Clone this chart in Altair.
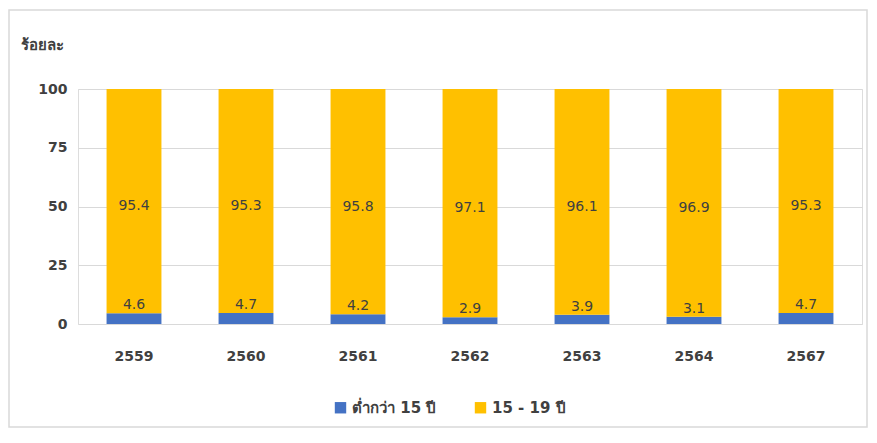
import altair as alt
import pandas as pd

years = ["2559", "2560", "2561", "2562", "2563", "2564", "2567"]
under15 = [4.6, 4.7, 4.2, 2.9, 3.9, 3.1, 4.7]
age15_19 = [95.4, 95.3, 95.8, 97.1, 96.1, 96.9, 95.3]
series = ["ต่ำกว่า 15 ปี", "15 - 19 ปี"]
colors = ["#4472C4", "#FFC000"]

rows = []
for y, a, b in zip(years, under15, age15_19):
    rows.append({"year": y, "group": series[0], "value": a, "ord": 0,
                 "label": f"{a:.1f}", "lab_y": a, "kind": "low"})
    rows.append({"year": y, "group": series[1], "value": b, "ord": 1,
                 "label": f"{b:.1f}", "lab_y": a + b / 2, "kind": "high"})
df = pd.DataFrame(rows)

FONT = "Tahoma, DejaVu Sans, Noto Sans, sans-serif"
W, H = 784, 235

base = alt.Chart(df)

bars = base.mark_bar().encode(
    x=alt.X("year:N", sort=years, title=None,
            scale=alt.Scale(paddingInner=0.51, paddingOuter=0.255),
            axis=alt.Axis(labelAngle=0, ticks=False, domain=False,
                          labelPadding=25, labelFontSize=14, labelFontWeight="bold",
                          labelColor="#404040", labelFont=FONT)),
    y=alt.Y("value:Q", stack="zero",
            scale=alt.Scale(domain=[0, 100]),
            axis=alt.Axis(values=[0, 25, 50, 75, 100], title="ร้อยละ",
                          titleAngle=0, titleX=-58, titleY=-37, titleAlign="left",
                          titleFontSize=15, titleFontWeight="bold", titleColor="#404040",
                          titleFont=FONT,
                          ticks=False, domain=False, labelPadding=11,
                          labelFontSize=14, labelFontWeight="bold", labelColor="#404040",
                          labelFont=FONT, gridColor="#d9d9d9")),
    color=alt.Color("group:N", sort=series,
                    scale=alt.Scale(domain=series, range=colors),
                    legend=alt.Legend(title=None, orient="none", direction="horizontal",
                                      legendX=255, legendY=311, symbolType="square",
                                      symbolSize=130, labelFontSize=15,
                                      labelFontWeight="bold", labelColor="#404040",
                                      labelFont=FONT, columnPadding=36, labelOffset=4)),
    order=alt.Order("ord:Q"),
)

labels_low = base.transform_filter(alt.datum.kind == "low").mark_text(
    fontSize=14, color="#404040", dy=-8, font=FONT
).encode(x=alt.X("year:N", sort=years), y=alt.Y("lab_y:Q"), text="label:N")

labels_high = base.transform_filter(alt.datum.kind == "high").mark_text(
    fontSize=14, color="#404040", font=FONT, dy=5
).encode(x=alt.X("year:N", sort=years), y=alt.Y("lab_y:Q"), text="label:N")

border = alt.Chart(pd.DataFrame({"a": [0]})).mark_rect(
    fill=None, stroke="#d9d9d9", strokeWidth=1.5
).encode(x=alt.value(-69), x2=alt.value(W + 5), y=alt.value(-79), y2=alt.value(H + 103))

chart = alt.layer(border, bars, labels_low, labels_high).properties(
    width=W, height=H,
    autosize=alt.AutoSizeParams(type="none"),
    padding={"left": 70, "top": 81, "right": 7, "bottom": 105},
).configure_view(stroke=None).configure(background="white")

chart.save("out.html", embed_options={"renderer": "svg", "actions": False})
